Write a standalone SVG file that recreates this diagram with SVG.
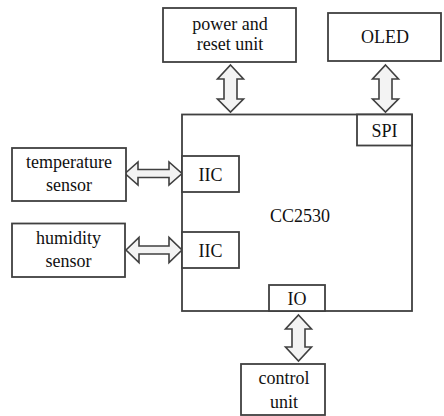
<svg xmlns="http://www.w3.org/2000/svg" width="444" height="416" viewBox="0 0 444 416">
<style>
.box{fill:#fff;stroke:#404040;stroke-width:1.8}
.arr{fill:#f3f3f3;stroke:#404040;stroke-width:1.6;stroke-linejoin:miter}
</style>
<rect width="444" height="416" fill="#fff"/>
<g id="connectors">
<path class="arr" d="M230.5,65 L243.5,79 L237,79 L237,99 L243.5,99 L230.5,112 L217.5,99 L224,99 L224,79 L217.5,79 Z"/>
<path class="arr" d="M385.5,65 L398.5,79 L392,79 L392,99 L398.5,99 L385.5,112 L372.5,99 L379,99 L379,79 L372.5,79 Z"/>
<path class="arr" d="M298.5,315 L311.5,329 L305,329 L305,347 L311.5,347 L298.5,361 L285.5,347 L292,347 L292,329 L285.5,329 Z"/>
<path class="arr" d="M125,173.5 L138,162 L138,169.5 L169,169.5 L169,162 L182,173.5 L169,185 L169,177.5 L138,177.5 L138,185 Z"/>
<path class="arr" d="M126,250 L139,237.5 L139,246 L169,246 L169,237.5 L182,250 L169,262.5 L169,254 L139,254 L139,262.5 Z"/>
</g>
<g font-family="Liberation Serif, Times New Roman, serif" font-size="18" fill="#111" text-anchor="middle">
<g id="cc2530">
<rect class="box" x="182" y="114.5" width="230" height="196.5"/>
<text x="300" y="222">CC2530</text>
</g>
<g id="spi">
<rect class="box" x="357" y="114.5" width="55" height="31"/>
<text x="384.5" y="137">SPI</text>
</g>
<g id="iic1">
<rect class="box" x="182" y="156" width="57" height="36"/>
<text x="210.5" y="180.5">IIC</text>
</g>
<g id="iic2">
<rect class="box" x="182" y="232" width="57" height="36"/>
<text x="210.5" y="256.5">IIC</text>
</g>
<g id="io">
<rect class="box" x="269" y="285" width="56" height="26"/>
<text x="297" y="304.5">IO</text>
</g>
<g id="power">
<rect class="box" x="163" y="8" width="133" height="54"/>
<text x="230" y="29.5">power and</text>
<text x="230" y="50">reset unit</text>
</g>
<g id="oled">
<rect class="box" x="328" y="13" width="113" height="48"/>
<text x="385" y="43">OLED</text>
</g>
<g id="temperature">
<rect class="box" x="12" y="148" width="114" height="53"/>
<text x="69" y="168">temperature</text>
<text x="69" y="191">sensor</text>
</g>
<g id="humidity">
<rect class="box" x="12" y="223.5" width="113" height="53.5"/>
<text x="68.5" y="243.5">humidity</text>
<text x="68.5" y="267">sensor</text>
</g>
<g id="control">
<rect class="box" x="241" y="364" width="84" height="51"/>
<text x="284" y="384">control</text>
<text x="284" y="408">unit</text>
</g>
</g>
</svg>
